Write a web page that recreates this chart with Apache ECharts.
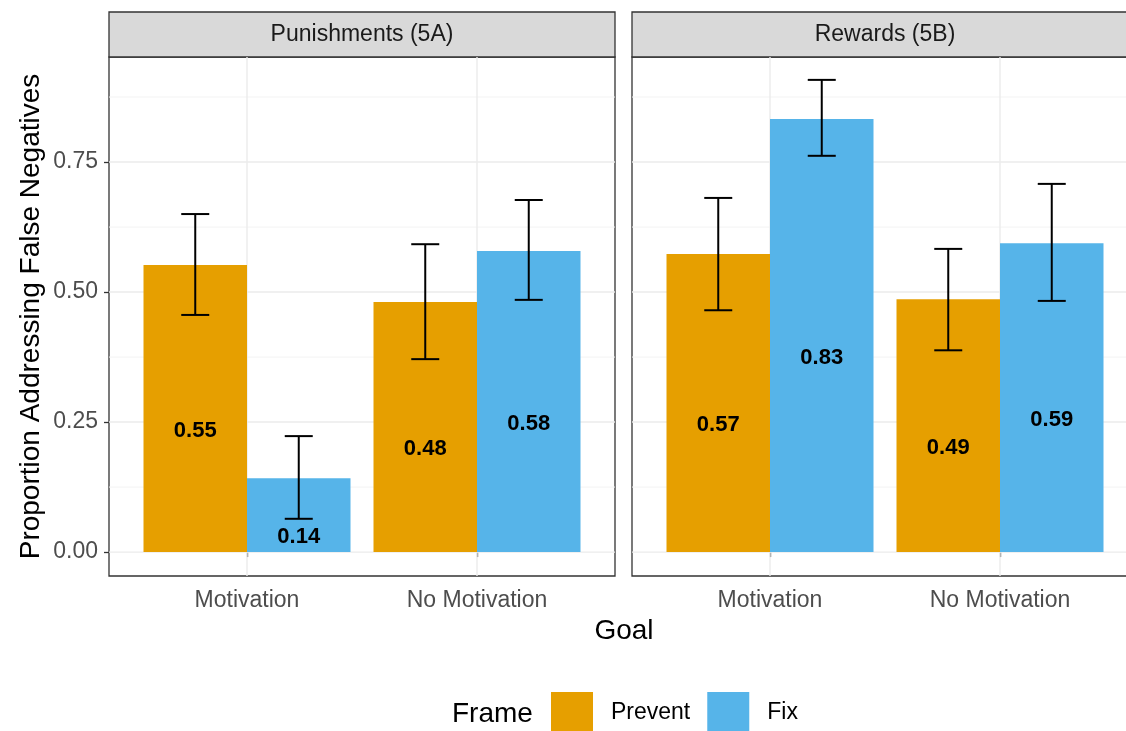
<!DOCTYPE html>
<html>
<head>
<meta charset="utf-8">
<script src="https://cdn.jsdelivr.net/npm/echarts@6/dist/echarts.min.js"></script>
<style>
  html, body { margin: 0; padding: 0; background: #ffffff; }
  #chart { width: 1126px; height: 731px; }
</style>
</head>
<body>
<div id="chart"></div>
<script>
// Categories and facets
const goals = ['Motivation', 'No Motivation'];
const frames = ['Prevent', 'Fix'];
const panels = ['Punishments (5A)', 'Rewards (5B)'];

// Y axis tick values (major and minor grid)
const yTicks = [0, 0.25, 0.5, 0.75];
const yMinorTicks = [0.125, 0.375, 0.625, 0.875];

// Proportion addressing false negatives, by goal (Motivation, No Motivation)
const punishPrevent = [0.552, 0.481];
const punishFix = [0.142, 0.579];
const rewardPrevent = [0.573, 0.486];
const rewardFix = [0.833, 0.594];

// Confidence limits [lower, upper], by goal
const punishPreventCI = [[0.456, 0.650], [0.371, 0.592]];
const punishFixCI = [[0.064, 0.223], [0.485, 0.677]];
const rewardPreventCI = [[0.465, 0.681], [0.388, 0.583]];
const rewardFixCI = [[0.762, 0.908], [0.483, 0.708]];

const FONT = '"Liberation Sans", Arial, Helvetica, sans-serif';
const FRAME_COLORS = ['#E69F00', '#56B4E9'];
const DODGE = 0.9;       // total width of the dodged pair, in category units
const CAP_HALF = 14;     // error bar cap half-width, px

const panelValues = [[punishPrevent, punishFix], [rewardPrevent, rewardFix]];
const panelCI = [[punishPreventCI, punishFixCI], [rewardPreventCI, rewardFixCI]];

// Horizontal offset of each frame's bar centre from the goal position
function frameCenter(pos, frameIdx) {
  return frameIdx === 0 ? pos - DODGE / 4 : pos + DODGE / 4;
}

function barRender(frameIdx) {
  return function (params, api) {
    const pos = api.value(0);
    const v = api.value(1);
    const x0 = frameIdx === 0 ? pos - DODGE / 2 : pos;
    const x1 = x0 + DODGE / 2;
    const tl = api.coord([x0, v]);
    const br = api.coord([x1, 0]);
    const mid = api.coord([(x0 + x1) / 2, v / 2]);
    return {
      type: 'group',
      children: [
        {
          type: 'rect',
          shape: { x: tl[0], y: tl[1], width: br[0] - tl[0], height: br[1] - tl[1] },
          style: { fill: FRAME_COLORS[frameIdx] }
        },
        {
          type: 'text',
          z2: 20,
          style: {
            text: v.toFixed(2),
            x: mid[0], y: mid[1] + 22,
            align: 'center', verticalAlign: 'middle',
            font: 'bold 22px ' + FONT,
            fill: '#000000'
          }
        }
      ]
    };
  };
}

function errorRender(params, api) {
  const cx = frameCenter(api.value(0), api.value(3));
  const lo = api.coord([cx, api.value(1)]);
  const hi = api.coord([cx, api.value(2)]);
  const style = { stroke: '#000000', lineWidth: 2 };
  return {
    type: 'group',
    children: [
      { type: 'line', shape: { x1: lo[0], y1: lo[1], x2: hi[0], y2: hi[1] }, style },
      { type: 'line', shape: { x1: hi[0] - CAP_HALF, y1: hi[1], x2: hi[0] + CAP_HALF, y2: hi[1] }, style },
      { type: 'line', shape: { x1: lo[0] - CAP_HALF, y1: lo[1], x2: lo[0] + CAP_HALF, y2: lo[1] }, style }
    ]
  };
}

// Panel grid lines: kind 0 = major horizontal, 1 = minor horizontal, 2 = vertical at goals
const gridLineData = []
  .concat(yTicks.map(v => [0, v]))
  .concat(yMinorTicks.map(v => [1, v]))
  .concat(goals.map((g, i) => [2, i + 1]));

function gridRender(params, api) {
  const cs = params.coordSys;
  const kind = api.value(0);
  const v = api.value(1);
  if (kind === 2) {
    const p = api.coord([v, 0]);
    return { type: 'line', shape: { x1: p[0], y1: cs.y, x2: p[0], y2: cs.y + cs.height },
      style: { stroke: '#EBEBEB', lineWidth: 1.4 } };
  }
  const p = api.coord([1, v]);
  return { type: 'line', shape: { x1: cs.x, y1: p[1], x2: cs.x + cs.width, y2: p[1] },
    style: { stroke: kind === 0 ? '#EBEBEB' : '#F3F3F3', lineWidth: kind === 0 ? 1.4 : 1 } };
}

const GRID_LEFT = [109, 632];
const GRID_TOP = 57;
const GRID_W = 506;
const GRID_H = 519;

const grids = [], xAxes = [], yAxes = [], series = [], graphics = [];

panels.forEach((name, p) => {
  grids.push({
    left: GRID_LEFT[p], top: GRID_TOP, width: GRID_W, height: GRID_H,
    outerBoundsMode: 'none', containLabel: false,
    show: true, backgroundColor: '#ffffff', borderColor: '#333333', borderWidth: 1.3
  });
  xAxes.push({
    type: 'value', gridIndex: p, min: 0.4, max: 2.6,
    axisLine: { show: false },
    splitLine: { show: false },
    axisTick: { show: true, customValues: goals.map((g, i) => i + 1), length: 5,
      lineStyle: { color: '#333333', width: 1.3 } },
    axisLabel: { customValues: goals.map((g, i) => i + 1),
      formatter: v => goals[Math.round(v) - 1],
      fontFamily: FONT, fontSize: 23, color: '#4D4D4D', margin: 13 }
  });
  yAxes.push({
    type: 'value', gridIndex: p, min: -0.046, max: 0.952,
    axisLine: { show: false },
    splitLine: { show: false },
    axisTick: { show: p === 0, customValues: yTicks, length: 5,
      lineStyle: { color: '#333333', width: 1.3 } },
    axisLabel: { show: p === 0, customValues: yTicks, formatter: v => v.toFixed(2),
      fontFamily: FONT, fontSize: 23, color: '#4D4D4D', margin: 11 },
    name: p === 0 ? 'Proportion Addressing False Negatives' : '',
    nameLocation: 'middle', nameGap: 64, nameRotate: 90,
    nameTextStyle: { fontFamily: FONT, fontSize: 28, color: '#000000' }
  });

  series.push({
    type: 'custom', xAxisIndex: p, yAxisIndex: p, silent: true, z: 1,
    renderItem: gridRender, data: gridLineData
  });

  frames.forEach((f, fi) => {
    series.push({
      name: f, type: 'custom', xAxisIndex: p, yAxisIndex: p, z: 2,
      itemStyle: { color: FRAME_COLORS[fi] },
      renderItem: barRender(fi),
      data: panelValues[p][fi].map((v, i) => [i + 1, v])
    });
    series.push({
      type: 'custom', xAxisIndex: p, yAxisIndex: p, z: 3, silent: true,
      renderItem: errorRender,
      data: panelCI[p][fi].map((ci, i) => [i + 1, ci[0], ci[1], fi])
    });
  });

  // Facet strip
  graphics.push({
    type: 'rect',
    shape: { x: GRID_LEFT[p], y: 12, width: GRID_W, height: GRID_TOP - 12 },
    style: { fill: '#D9D9D9', stroke: '#333333', lineWidth: 1.3 }
  });
  graphics.push({
    type: 'text',
    style: {
      text: name, x: GRID_LEFT[p] + GRID_W / 2, y: (12 + GRID_TOP) / 2,
      align: 'center', verticalAlign: 'middle',
      font: '23px ' + FONT, fill: '#1A1A1A'
    }
  });
});

// Shared x axis title and legend title
graphics.push({
  type: 'text',
  style: { text: 'Goal', x: 624, y: 631,
    align: 'center', verticalAlign: 'middle', font: '28px ' + FONT, fill: '#000000' }
});
graphics.push({
  type: 'text',
  style: { text: 'Frame', x: 452, y: 714, align: 'left', verticalAlign: 'middle',
    font: '28px ' + FONT, fill: '#000000' }
});

const chart = echarts.init(document.getElementById('chart'), null, { renderer: 'canvas' });
chart.setOption({
  backgroundColor: '#ffffff',
  animation: false,
  grid: grids,
  xAxis: xAxes,
  yAxis: yAxes,
  legend: {
    data: frames,
    left: 551, top: 692,
    padding: 0,
    orient: 'horizontal',
    icon: 'rect',
    itemWidth: 42, itemHeight: 42, itemGap: 17,
    selectedMode: false,
    textStyle: { fontFamily: FONT, fontSize: 23, color: '#000000', padding: [4, 0, 0, 13] }
  },
  series: series,
  graphic: graphics
});
</script>
</body>
</html>
